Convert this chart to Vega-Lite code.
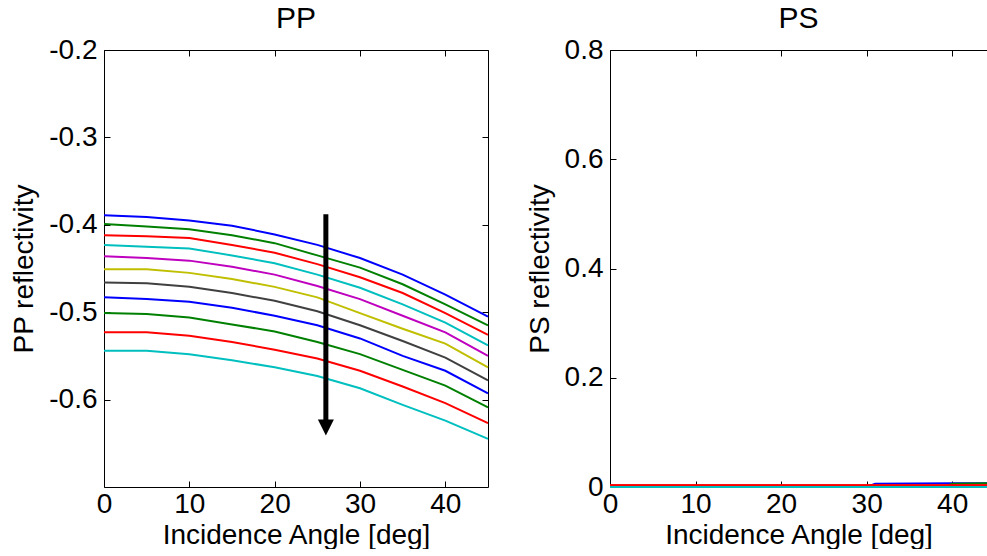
{
  "$schema": "https://vega.github.io/schema/vega-lite/v6.json",
  "background": "white",
  "padding": {"left": 10, "top": 4, "right": 0, "bottom": 0},
  "spacing": 34,
  "config": {
    "view": {"stroke": null},
    "font": "Liberation Sans",
    "axis": {
      "grid": false,
      "domainColor": "black",
      "domainWidth": 1,
      "tickColor": "black",
      "tickWidth": 1,
      "tickSize": -6,
      "labelFont": "Liberation Sans",
      "labelFontSize": 28,
      "labelColor": "black",
      "labelFlush": false,
      "labelOverlap": false,
      "titleFont": "Liberation Sans",
      "titleFontSize": 28,
      "titleFontWeight": "normal",
      "titleColor": "black"
    },
    "axisLeft": {"labelPadding": 13, "titlePadding": 10},
    "axisBottom": {"labelPadding": 9, "titlePadding": 3},
    "title": {"font": "Liberation Sans", "fontSize": 30, "fontWeight": "normal", "color": "black", "offset": 2}
  },
  "datasets": {
    "pp": [
      {"curve": "c01", "angle": 0, "value": -0.389}, {"curve": "c01", "angle": 5, "value": -0.391}, {"curve": "c01", "angle": 10, "value": -0.395}, {"curve": "c01", "angle": 15, "value": -0.401}, {"curve": "c01", "angle": 20, "value": -0.411}, {"curve": "c01", "angle": 25, "value": -0.423}, {"curve": "c01", "angle": 30, "value": -0.438}, {"curve": "c01", "angle": 35, "value": -0.457}, {"curve": "c01", "angle": 40, "value": -0.480}, {"curve": "c01", "angle": 45, "value": -0.505},
      {"curve": "c02", "angle": 0, "value": -0.399}, {"curve": "c02", "angle": 5, "value": -0.402}, {"curve": "c02", "angle": 10, "value": -0.405}, {"curve": "c02", "angle": 15, "value": -0.412}, {"curve": "c02", "angle": 20, "value": -0.421}, {"curve": "c02", "angle": 25, "value": -0.435}, {"curve": "c02", "angle": 30, "value": -0.449}, {"curve": "c02", "angle": 35, "value": -0.468}, {"curve": "c02", "angle": 40, "value": -0.491}, {"curve": "c02", "angle": 45, "value": -0.515},
      {"curve": "c03", "angle": 0, "value": -0.412}, {"curve": "c03", "angle": 5, "value": -0.413}, {"curve": "c03", "angle": 10, "value": -0.415}, {"curve": "c03", "angle": 15, "value": -0.423}, {"curve": "c03", "angle": 20, "value": -0.432}, {"curve": "c03", "angle": 25, "value": -0.445}, {"curve": "c03", "angle": 30, "value": -0.460}, {"curve": "c03", "angle": 35, "value": -0.478}, {"curve": "c03", "angle": 40, "value": -0.501}, {"curve": "c03", "angle": 45, "value": -0.526},
      {"curve": "c04", "angle": 0, "value": -0.423}, {"curve": "c04", "angle": 5, "value": -0.425}, {"curve": "c04", "angle": 10, "value": -0.427}, {"curve": "c04", "angle": 15, "value": -0.435}, {"curve": "c04", "angle": 20, "value": -0.444}, {"curve": "c04", "angle": 25, "value": -0.457}, {"curve": "c04", "angle": 30, "value": -0.472}, {"curve": "c04", "angle": 35, "value": -0.491}, {"curve": "c04", "angle": 40, "value": -0.512}, {"curve": "c04", "angle": 45, "value": -0.538},
      {"curve": "c05", "angle": 0, "value": -0.436}, {"curve": "c05", "angle": 5, "value": -0.438}, {"curve": "c05", "angle": 10, "value": -0.441}, {"curve": "c05", "angle": 15, "value": -0.448}, {"curve": "c05", "angle": 20, "value": -0.457}, {"curve": "c05", "angle": 25, "value": -0.470}, {"curve": "c05", "angle": 30, "value": -0.485}, {"curve": "c05", "angle": 35, "value": -0.504}, {"curve": "c05", "angle": 40, "value": -0.523}, {"curve": "c05", "angle": 45, "value": -0.550},
      {"curve": "c06", "angle": 0, "value": -0.451}, {"curve": "c06", "angle": 5, "value": -0.451}, {"curve": "c06", "angle": 10, "value": -0.455}, {"curve": "c06", "angle": 15, "value": -0.462}, {"curve": "c06", "angle": 20, "value": -0.471}, {"curve": "c06", "angle": 25, "value": -0.483}, {"curve": "c06", "angle": 30, "value": -0.501}, {"curve": "c06", "angle": 35, "value": -0.519}, {"curve": "c06", "angle": 40, "value": -0.536}, {"curve": "c06", "angle": 45, "value": -0.563},
      {"curve": "c07", "angle": 0, "value": -0.466}, {"curve": "c07", "angle": 5, "value": -0.467}, {"curve": "c07", "angle": 10, "value": -0.471}, {"curve": "c07", "angle": 15, "value": -0.478}, {"curve": "c07", "angle": 20, "value": -0.487}, {"curve": "c07", "angle": 25, "value": -0.499}, {"curve": "c07", "angle": 30, "value": -0.515}, {"curve": "c07", "angle": 35, "value": -0.533}, {"curve": "c07", "angle": 40, "value": -0.552}, {"curve": "c07", "angle": 45, "value": -0.578},
      {"curve": "c08", "angle": 0, "value": -0.483}, {"curve": "c08", "angle": 5, "value": -0.485}, {"curve": "c08", "angle": 10, "value": -0.488}, {"curve": "c08", "angle": 15, "value": -0.495}, {"curve": "c08", "angle": 20, "value": -0.504}, {"curve": "c08", "angle": 25, "value": -0.515}, {"curve": "c08", "angle": 30, "value": -0.530}, {"curve": "c08", "angle": 35, "value": -0.550}, {"curve": "c08", "angle": 40, "value": -0.567}, {"curve": "c08", "angle": 45, "value": -0.593},
      {"curve": "c09", "angle": 0, "value": -0.501}, {"curve": "c09", "angle": 5, "value": -0.502}, {"curve": "c09", "angle": 10, "value": -0.506}, {"curve": "c09", "angle": 15, "value": -0.514}, {"curve": "c09", "angle": 20, "value": -0.522}, {"curve": "c09", "angle": 25, "value": -0.534}, {"curve": "c09", "angle": 30, "value": -0.548}, {"curve": "c09", "angle": 35, "value": -0.566}, {"curve": "c09", "angle": 40, "value": -0.584}, {"curve": "c09", "angle": 45, "value": -0.609},
      {"curve": "c10", "angle": 0, "value": -0.523}, {"curve": "c10", "angle": 5, "value": -0.523}, {"curve": "c10", "angle": 10, "value": -0.527}, {"curve": "c10", "angle": 15, "value": -0.534}, {"curve": "c10", "angle": 20, "value": -0.543}, {"curve": "c10", "angle": 25, "value": -0.553}, {"curve": "c10", "angle": 30, "value": -0.567}, {"curve": "c10", "angle": 35, "value": -0.585}, {"curve": "c10", "angle": 40, "value": -0.604}, {"curve": "c10", "angle": 45, "value": -0.627},
      {"curve": "c11", "angle": 0, "value": -0.544}, {"curve": "c11", "angle": 5, "value": -0.544}, {"curve": "c11", "angle": 10, "value": -0.548}, {"curve": "c11", "angle": 15, "value": -0.555}, {"curve": "c11", "angle": 20, "value": -0.563}, {"curve": "c11", "angle": 25, "value": -0.573}, {"curve": "c11", "angle": 30, "value": -0.587}, {"curve": "c11", "angle": 35, "value": -0.606}, {"curve": "c11", "angle": 40, "value": -0.624}, {"curve": "c11", "angle": 45, "value": -0.645}
    ],
    "ps": [
      {"curve": "c01", "angle": 0, "value": 0}, {"curve": "c01", "angle": 30, "value": 0}, {"curve": "c01", "angle": 31, "value": 0.006}, {"curve": "c01", "angle": 40, "value": 0.007}, {"curve": "c01", "angle": 45, "value": 0.007},
      {"curve": "c02", "angle": 0, "value": 0}, {"curve": "c02", "angle": 39, "value": 0}, {"curve": "c02", "angle": 40, "value": 0.006}, {"curve": "c02", "angle": 45, "value": 0.007},
      {"curve": "c03", "angle": 0, "value": 0.003}, {"curve": "c03", "angle": 45, "value": 0.003},
      {"curve": "c04", "angle": 0, "value": 0}, {"curve": "c04", "angle": 45, "value": 0},
      {"curve": "c05", "angle": 0, "value": 0}, {"curve": "c05", "angle": 45, "value": 0},
      {"curve": "c06", "angle": 0, "value": 0}, {"curve": "c06", "angle": 45, "value": 0},
      {"curve": "c07", "angle": 0, "value": 0}, {"curve": "c07", "angle": 45, "value": 0},
      {"curve": "c08", "angle": 0, "value": 0}, {"curve": "c08", "angle": 45, "value": 0},
      {"curve": "c09", "angle": 0, "value": 0}, {"curve": "c09", "angle": 45, "value": 0},
      {"curve": "c10", "angle": 0, "value": 0.003}, {"curve": "c10", "angle": 45, "value": 0.003},
      {"curve": "c11", "angle": 0, "value": 0}, {"curve": "c11", "angle": 45, "value": 0}
    ],
    "arrow": [{"x": 26, "y1": -0.388, "y2": -0.624}],
    "head": [{"x": 26, "y": -0.632}]
  },
  "hconcat": [
    {
      "width": 384,
      "height": 437,
      "title": {"text": "PP"},
      "resolve": {"axis": {"x": "independent", "y": "independent"}},
      "layer": [
        {
          "data": {"name": "pp"},
          "mark": {"type": "line", "strokeWidth": 2},
          "encoding": {
            "x": {"field": "angle", "type": "quantitative", "scale": {"domain": [0, 45], "nice": false},
                  "axis": {"values": [0, 10, 20, 30, 40], "title": "Incidence Angle [deg]"}},
            "y": {"field": "value", "type": "quantitative", "scale": {"domain": [-0.7, -0.2], "nice": false},
                  "axis": {"values": [-0.6, -0.5, -0.4, -0.3, -0.2], "title": "PP reflectivity",
                           "labelExpr": "datum.value < 0 ? '-' + format(-datum.value, '.1f') : format(datum.value, '.1f')"}},
            "color": {"field": "curve", "type": "nominal",
                      "scale": {"domain": ["c01","c02","c03","c04","c05","c06","c07","c08","c09","c10","c11"],
                                "range": ["#0000ff","#008000","#ff0000","#00bfbf","#bf00bf","#bfbf00","#404040","#0000ff","#008000","#ff0000","#00bfbf"]},
                      "legend": null}
          }
        },
        {
          "data": {"name": "arrow"},
          "mark": {"type": "rule", "strokeWidth": 5, "color": "black", "strokeCap": "butt"},
          "encoding": {
            "x": {"field": "x", "type": "quantitative", "scale": {"domain": [0, 45], "nice": false},
                  "axis": {"orient": "top", "values": [0, 10, 20, 30, 40], "labels": false, "title": null}},
            "y": {"field": "y1", "type": "quantitative", "scale": {"domain": [-0.7, -0.2], "nice": false},
                  "axis": {"orient": "right", "values": [-0.6, -0.5, -0.4, -0.3, -0.2], "labels": false, "title": null}},
            "y2": {"field": "y2"}
          }
        },
        {
          "data": {"name": "head"},
          "mark": {"type": "point", "shape": "M-1,-1L1,-1L0,1Z", "filled": true, "color": "black", "size": 256, "opacity": 1, "strokeWidth": 0},
          "encoding": {
            "x": {"field": "x", "type": "quantitative", "scale": {"domain": [0, 45], "nice": false}, "axis": null},
            "y": {"field": "y", "type": "quantitative", "scale": {"domain": [-0.7, -0.2], "nice": false}, "axis": null}
          }
        }
      ]
    },
    {
      "width": 377,
      "height": 437,
      "title": {"text": "PS"},
      "resolve": {"axis": {"x": "independent", "y": "independent"}},
      "layer": [
        {
          "data": {"name": "ps"},
          "mark": {"type": "line", "strokeWidth": 2},
          "encoding": {
            "x": {"field": "angle", "type": "quantitative", "scale": {"domain": [0, 44.07], "nice": false},
                  "axis": {"values": [0, 10, 20, 30, 40], "title": "Incidence Angle [deg]"}},
            "y": {"field": "value", "type": "quantitative", "scale": {"domain": [0, 0.8], "nice": false},
                  "axis": {"values": [0, 0.2, 0.4, 0.6, 0.8], "title": "PS reflectivity",
                           "labelExpr": "datum.value == 0 ? '0' : format(datum.value, '.1f')"}},
            "color": {"field": "curve", "type": "nominal",
                      "scale": {"domain": ["c01","c02","c03","c04","c05","c06","c07","c08","c09","c10","c11"],
                                "range": ["#0000ff","#008000","#ff0000","#00bfbf","#bf00bf","#bfbf00","#404040","#0000ff","#008000","#ff0000","#00bfbf"]},
                      "legend": null}
          }
        },
        {
          "data": {"name": "ps"},
          "mark": {"type": "point", "opacity": 0},
          "encoding": {
            "x": {"field": "angle", "type": "quantitative", "scale": {"domain": [0, 44.07], "nice": false},
                  "axis": {"orient": "top", "values": [0, 10, 20, 30, 40], "labels": false, "title": null}},
            "y": {"field": "value", "type": "quantitative", "scale": {"domain": [0, 0.8], "nice": false}, "axis": null}
          }
        }
      ]
    }
  ]
}
